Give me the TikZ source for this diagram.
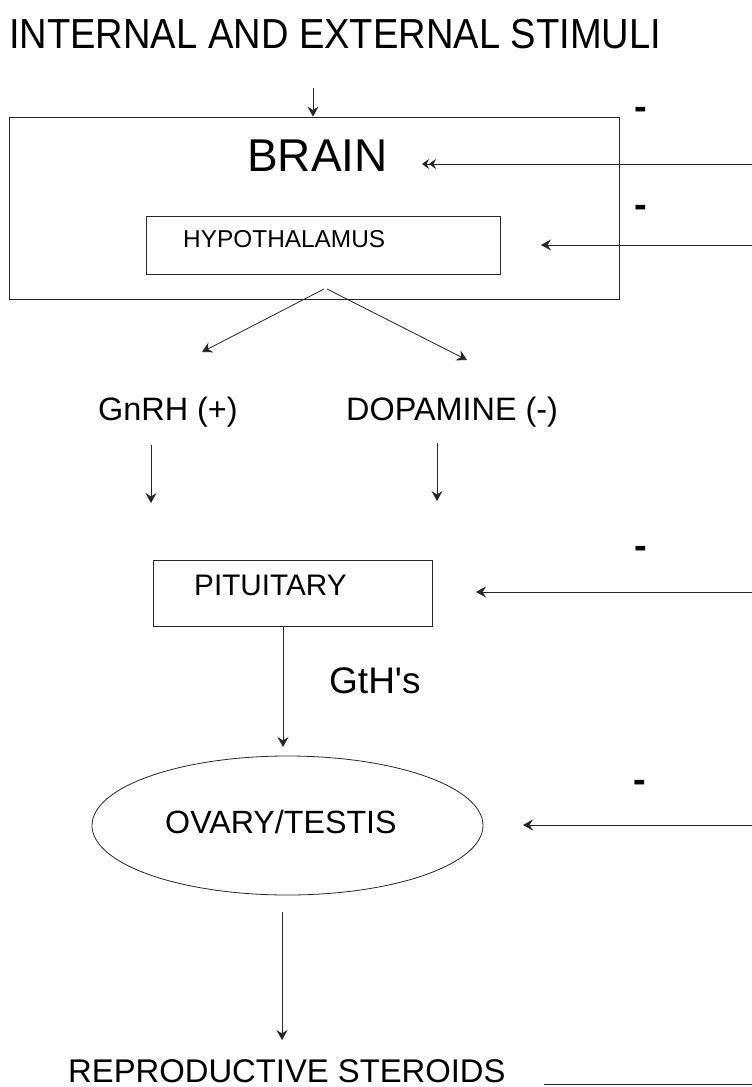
\documentclass[tikz,border=0pt]{standalone}
\usepackage{fontspec}
\setmainfont{Liberation Sans}
\usetikzlibrary{arrows.meta,shapes.geometric}
\newcommand{\fsz}[1]{\fontsize{#1pt}{#1pt}\selectfont}
\begin{document}
\begin{tikzpicture}[x=1pt,y=-1pt,
  ln/.style={draw=black!85, line width=0.8pt},
  arr/.style={ln, -{Stealth[length=10pt,width=11pt,inset=3.5pt]}},
  darr/.style={ln, -{Stealth[length=7pt,width=10pt,inset=2.5pt]Stealth[length=7pt,width=10pt,inset=2.5pt]}},
  txt/.style={anchor=base west, inner sep=0pt, text=black},
  minus/.style={anchor=base, inner sep=0pt, text=black, font=\fsz{38}\bfseries},
  boxnode/.style={ln, rectangle, inner sep=0pt}
]
\useasboundingbox[fill=white] (0,0) rectangle (752,1087);

% texts
\node[txt] (title) at (9,48) {\fsz{42}\scalebox{0.907}[1]{INTERNAL AND EXTERNAL STIMULI}};
\node[txt] (braintxt) at (247,171) {\fsz{46}BRAIN};
\node[txt] (hyptxt) at (183,247) {\fsz{24.4}HYPOTHALAMUS};
\node[txt] (gnrh) at (98,420) {\fsz{32.4}GnRH (+)};
\node[txt] (dopa) at (346,420) {\fsz{32.4}DOPAMINE (-)};
\node[txt] (pittxt) at (194,595) {\fsz{29.7}PITUITARY};
\node[txt] (gth) at (329,693) {\fsz{37}GtH\textquotesingle s};
\node[txt] (ovtxt) at (165,833) {\fsz{32.2}OVARY/TESTIS};
\node[txt] (ster) at (68,1082) {\fsz{32.8}REPRODUCTIVE STEROIDS};

% minus signs
\node[minus] (m1) at (640.5,119) {-};
\node[minus] (m2) at (640.5,217) {-};
\node[minus] (m3) at (640.5,558.5) {-};
\node[minus] (m4) at (639.5,792.5) {-};

% boxes
\node[boxnode, minimum width=610pt, minimum height=182pt] (brain) at (314,208) {};
\node[boxnode, minimum width=354pt, minimum height=58pt] (hyp) at (323,245) {};
\node[boxnode, minimum width=279pt, minimum height=66pt] (pit) at (292.5,593) {};
\node[ln, ellipse, inner sep=0pt, minimum width=391pt, minimum height=139pt] (ov) at (287.5,825.5) {};

% coordinates
\coordinate (t0) at (313,88);
\coordinate (apexL) at (324,289);
\coordinate (apexR) at (327,289);
\coordinate (gnrhTip) at (202,352);
\coordinate (dopaTip) at (467,360);
\coordinate (g0) at (151,445);
\coordinate (g1) at (151,503);
\coordinate (d0) at (437,443);
\coordinate (d1) at (437,501);
\coordinate (p0) at (283,626);
\coordinate (p1) at (283,747);
\coordinate (o0) at (282,912);
\coordinate (o1) at (282,1040);
\coordinate (s0) at (544,1084);
\coordinate (s1) at (752,1084);
\coordinate (rB) at (752,164);
\coordinate (rBt) at (422,164);
\coordinate (rH) at (752,245);
\coordinate (rHt) at (541,245);
\coordinate (rP) at (752,592);
\coordinate (rPt) at (476,592);
\coordinate (rO) at (752,825);
\coordinate (rOt) at (523,825);

% connectors
\draw[arr] (t0) -- (t0 |- brain.north);
\draw[arr] (apexL) -- (gnrhTip);
\draw[arr] (apexR) -- (dopaTip);
\draw[arr] (g0) -- (g1);
\draw[arr] (d0) -- (d1);
\draw[arr] (p0) -- (p1);
\draw[arr] (o0) -- (o1);
\draw[ln] (s0) -- (s1);
\draw[darr] (rB) -- (rBt);
\draw[arr] (rH) -- (rHt);
\draw[arr] (rP) -- (rPt);
\draw[arr] (rO) -- (rOt);
\end{tikzpicture}
\end{document}
